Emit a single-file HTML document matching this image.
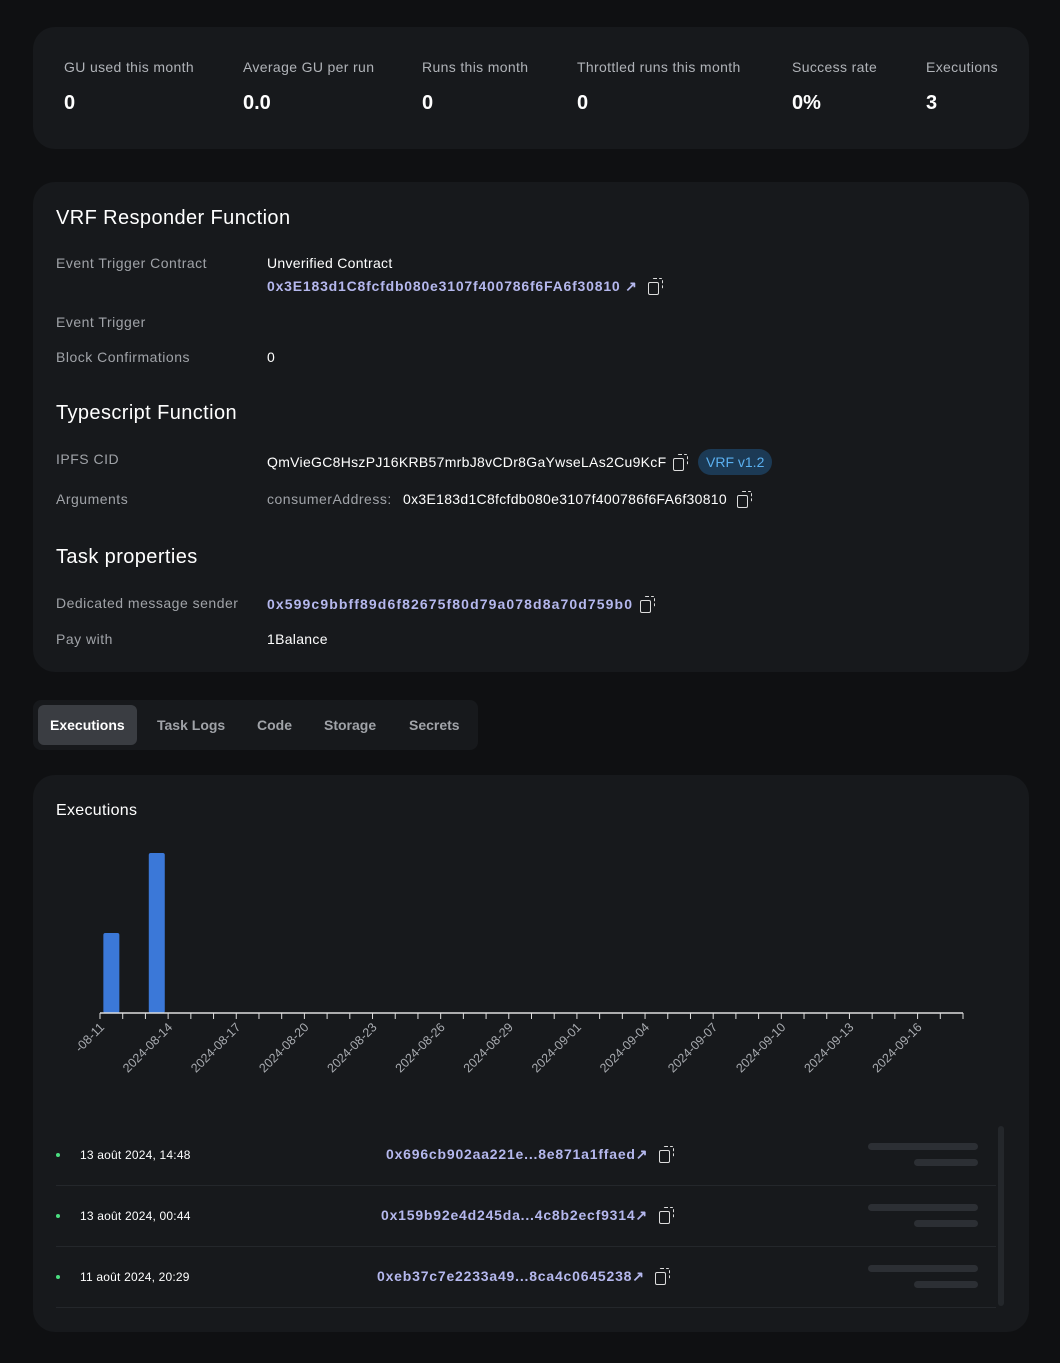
<!DOCTYPE html>
<html><head><meta charset="utf-8"><style>
*{box-sizing:border-box;margin:0;padding:0}
body{width:1060px;height:1363px;background:#0f1012;font-family:"Liberation Sans",sans-serif;color:#fff;position:relative;overflow:hidden}
.card{position:absolute;left:33px;width:996px;background:#17191c;border-radius:22px}
.abs{position:absolute;white-space:nowrap}
.lbl{color:#a0a3a8;font-size:14px;letter-spacing:0.5px}
.val{color:#fff;font-size:14px;letter-spacing:0.3px}
.link{color:#b5b8ee;font-size:14px;font-weight:bold;letter-spacing:0.8px}
.stat-l{color:#b0b3b8;font-size:14px;letter-spacing:0.35px}
.stat-v{color:#fff;font-size:20px;font-weight:bold}
h2{position:absolute;font-size:20px;font-weight:normal;color:#fff;letter-spacing:0.4px}
.copy{display:inline-block;vertical-align:middle;position:relative;width:11px;height:13px;border:1.5px solid #ddd;border-radius:2px;margin-top:3px}
.copy:after{content:"";position:absolute;left:3px;top:-5px;width:10px;height:11px;border:1.5px dashed #ddd;border-radius:2px;border-left:none;border-bottom:none}
.tab{position:absolute;top:705px;height:40px;line-height:40px;font-size:14px;font-weight:bold;color:#a0a3a8;padding:0 12px}
.row-date{font-size:12px;color:#fff;letter-spacing:0.2px}
.dot{position:absolute;width:4px;height:4px;border-radius:2px;background:#4ade80}
.sk{position:absolute;background:#2c2f34;border-radius:4px;height:7px}
.sep{position:absolute;left:56px;width:940px;height:1px;background:#24272b}
</style></head><body>
<div class="card" style="top:27px;height:122px"></div>
<div class="abs stat-l" style="left:64px;top:59px">GU used this month</div>
<div class="abs stat-v" style="left:64px;top:92px">0</div>
<div class="abs stat-l" style="left:243px;top:59px">Average GU per run</div>
<div class="abs stat-v" style="left:243px;top:92px">0.0</div>
<div class="abs stat-l" style="left:422px;top:59px">Runs this month</div>
<div class="abs stat-v" style="left:422px;top:92px">0</div>
<div class="abs stat-l" style="left:577px;top:59px">Throttled runs this month</div>
<div class="abs stat-v" style="left:577px;top:92px">0</div>
<div class="abs stat-l" style="left:792px;top:59px">Success rate</div>
<div class="abs stat-v" style="left:792px;top:92px">0%</div>
<div class="abs stat-l" style="left:926px;top:59px">Executions</div>
<div class="abs stat-v" style="left:926px;top:92px">3</div>

<div class="card" style="top:182px;height:490px"></div>
<h2 style="left:56px;top:207px">VRF Responder Function</h2>
<div class="abs lbl" style="left:56px;top:255px">Event Trigger Contract</div>
<div class="abs val" style="left:267px;top:255px">Unverified Contract</div>
<div class="abs link" style="left:267px;top:278px;letter-spacing:0.8px">0x3E183d1C8fcfdb080e3107f400786f6FA6f30810 ↗ <span class="copy" style="margin-left:6px"></span></div>
<div class="abs lbl" style="left:56px;top:314px">Event Trigger</div>
<div class="abs lbl" style="left:56px;top:349px">Block Confirmations</div>
<div class="abs val" style="left:267px;top:349px">0</div>
<h2 style="left:56px;top:402px">Typescript Function</h2>
<div class="abs lbl" style="left:56px;top:451px">IPFS CID</div>
<div class="abs val" style="left:267px;top:454px">QmVieGC8HszPJ16KRB57mrbJ8vCDr8GaYwseLAs2Cu9KcF <span class="copy" style="margin-left:2px"></span></div>
<div class="abs" style="left:698px;top:449px;height:26px;line-height:26px;padding:0 8px;border-radius:13px;background:#1c3a55;color:#5ab0f0;font-size:14px">VRF v1.2</div>
<div class="abs lbl" style="left:56px;top:491px">Arguments</div>
<div class="abs lbl" style="left:267px;top:491px">consumerAddress:</div>
<div class="abs val" style="left:403px;top:491px">0x3E183d1C8fcfdb080e3107f400786f6FA6f30810 <span class="copy" style="margin-left:6px"></span></div>
<h2 style="left:56px;top:546px">Task properties</h2>
<div class="abs lbl" style="left:56px;top:595px">Dedicated message sender</div>
<div class="abs link" style="left:267px;top:596px;letter-spacing:1.1px">0x599c9bbff89d6f82675f80d79a078d8a70d759b0 <span class="copy" style="margin-left:2px"></span></div>
<div class="abs lbl" style="left:56px;top:631px">Pay with</div>
<div class="abs val" style="left:267px;top:631px">1Balance</div>

<div class="abs" style="left:33px;top:700px;width:445px;height:50px;background:#17191c;border-radius:8px"></div>
<div class="tab" style="left:38px;background:#3a3d42;color:#fff;border-radius:6px">Executions</div>
<div class="tab" style="left:145px">Task Logs</div>
<div class="tab" style="left:245px">Code</div>
<div class="tab" style="left:312px">Storage</div>
<div class="tab" style="left:397px">Secrets</div>

<div class="card" style="top:775px;height:557px"></div>
<div class="abs" style="left:56px;top:802px;font-size:16px;letter-spacing:0.3px">Executions</div>
<svg id="chart" class="abs" style="left:0;top:0" width="1060" height="1110"></svg>

<div class="abs" style="left:998px;top:1126px;width:6px;height:180px;background:#24272b;border-radius:3px"></div>
<div class="dot" style="left:56px;top:1153px"></div>
<div class="abs row-date" style="left:80px;top:1148px">13 août 2024, 14:48</div>
<div class="abs link" style="left:386px;top:1146px">0x696cb902aa221e...8e871a1ffaed↗ <span class="copy" style="margin-left:6px"></span></div>
<div class="sk" style="left:868px;top:1143px;width:110px"></div>
<div class="sk" style="left:914px;top:1159px;width:64px"></div>
<div class="sep" style="top:1185px"></div>
<div class="dot" style="left:56px;top:1214px"></div>
<div class="abs row-date" style="left:80px;top:1209px">13 août 2024, 00:44</div>
<div class="abs link" style="left:381px;top:1207px">0x159b92e4d245da...4c8b2ecf9314↗ <span class="copy" style="margin-left:6px"></span></div>
<div class="sk" style="left:868px;top:1204px;width:110px"></div>
<div class="sk" style="left:914px;top:1220px;width:64px"></div>
<div class="sep" style="top:1246px"></div>
<div class="dot" style="left:56px;top:1275px"></div>
<div class="abs row-date" style="left:80px;top:1270px">11 août 2024, 20:29</div>
<div class="abs link" style="left:377px;top:1268px">0xeb37c7e2233a49...8ca4c0645238↗ <span class="copy" style="margin-left:6px"></span></div>
<div class="sk" style="left:868px;top:1265px;width:110px"></div>
<div class="sk" style="left:914px;top:1281px;width:64px"></div>
<div class="sep" style="top:1307px"></div>

<script>
const categories = ["2024-08-11","2024-08-13"];
const counts = [1, 2];
const tickLabels = ["2024-08-11","2024-08-14","2024-08-17","2024-08-20","2024-08-23","2024-08-26","2024-08-29","2024-09-01","2024-09-04","2024-09-07","2024-09-10","2024-09-13","2024-09-16"];
const startDate = "2024-08-11";
const endDate = "2024-09-18";
const maxCount = 2;

const svg = document.getElementById('chart');
const NS = 'http://www.w3.org/2000/svg';
const x0 = 100, x1 = 963, axisY = 1013, plotH = 160;
const day = d => Date.parse(d + "T00:00:00Z") / 86400000;
const nDays = day(endDate) - day(startDate);
const dw = (x1 - x0) / nDays;
const xs = d => x0 + (day(d) - day(startDate)) * dw;
const ys = v => axisY - v / maxCount * plotH;

categories.forEach((c, i) => {
  const r = document.createElementNS(NS, 'rect');
  
  
  r.setAttribute('x', xs(c) + dw / 2 - 8);
  r.setAttribute('y', ys(counts[i]));
  r.setAttribute('width', 16);
  r.setAttribute('height', axisY - ys(counts[i]));
  r.setAttribute('rx', 2);
  r.setAttribute('fill', '#3b78d8');
  svg.appendChild(r);
});
const ax = document.createElementNS(NS, 'line');


ax.setAttribute('x1', x0); ax.setAttribute('x2', x1);
ax.setAttribute('y1', axisY); ax.setAttribute('y2', axisY);
ax.setAttribute('stroke', '#ddd'); ax.setAttribute('stroke-width', 1.5);
svg.appendChild(ax);
for (let i = 0; i <= nDays; i++) {
  const t = document.createElementNS(NS, 'line');
  
  
  const x = x0 + i * dw;
  t.setAttribute('x1', x); t.setAttribute('x2', x);
  t.setAttribute('y1', axisY); t.setAttribute('y2', axisY + 6);
  t.setAttribute('stroke', '#ddd');
  svg.appendChild(t);
}
tickLabels.forEach((l, i) => {
  const x = xs(l);
  const t = document.createElementNS(NS, 'text');
  
  
  t.setAttribute('x', x + 5); t.setAttribute('y', axisY + 15);
  t.setAttribute('text-anchor', 'end');
  t.setAttribute('font-size', '12.5');
  t.setAttribute('fill', '#a8abb0');
  t.setAttribute('font-family', 'Liberation Sans, sans-serif');
  t.setAttribute('transform', `rotate(-45 ${x + 5} ${axisY + 15})`);
  t.textContent = i === 0 ? '-08-11' : l;
  svg.appendChild(t);
});
</script>
</body></html>
